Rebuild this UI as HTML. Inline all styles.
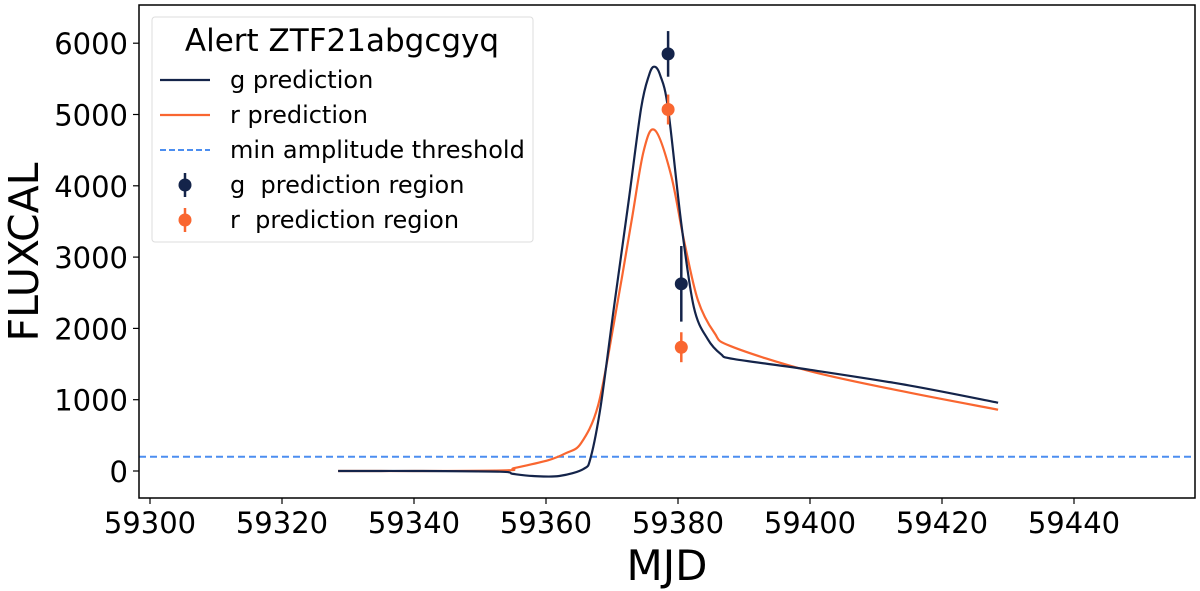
<!DOCTYPE html>
<html><head><meta charset="utf-8"><style>
body{margin:0;background:#fff}
svg{display:block;font-family:"DejaVu Sans","Liberation Sans",sans-serif}
</style></head><body>
<svg id="chart" width="1200" height="591" viewBox="0 0 1200 591" xmlns="http://www.w3.org/2000/svg">
<g id="plot"></g>
</svg>
<script>
const gMjd = [59328.5,59340,59353,59355,59358,59362,59365.7,59366.8,59368.3,59370.3,59372.4,59374.4,59375.6,59376.4,59377.3,59378.5,59380.5,59382.4,59384.5,59386.5,59388.5,59400,59415,59428.5];
const gFlux = [0,0,-10,-40,-70,-70,30,200,920,2300,3700,5080,5550,5670,5550,5080,3470,2300,1850,1640,1570,1420,1200,958];
const rMjd = [59328.5,59340,59354,59355.2,59360.3,59363,59365.3,59367.9,59370.3,59372.9,59374.8,59376.5,59378.9,59380.9,59383,59385.5,59388,59400,59415,59428.5];
const rFlux = [0,0,10,40,150,250,390,920,2080,3470,4490,4780,4170,3240,2400,1940,1750,1400,1100,860];
const ptMjd = [59378.5,59378.5,59380.5,59380.5];
const ptFlux = [5850,5070,2625,1736];
const ptErr = [320,210,530,210];
const ptBand = ['g','r','g','r'];
const threshold = 200;
const xTicks = [59300,59320,59340,59360,59380,59400,59420,59440];
const yTicks = [0,1000,2000,3000,4000,5000,6000];

const L=139,R=1195,T=5,B=498;
const X=v=>150+(v-59300)*6.6;
const Y=v=>471-v*0.0713;
const G='#14244a',O='#f96630',BL='#4c8ef0';
const svg=document.getElementById('chart');
const NS='http://www.w3.org/2000/svg';
function mk(tag,attrs,parent){const e=document.createElementNS(NS,tag);for(const k in attrs)e.setAttribute(k,attrs[k]);(parent||svg).appendChild(e);return e;}

let th=mk('line',{x1:L,x2:R,y1:Y(threshold),y2:Y(threshold),stroke:BL,'stroke-width':2,'stroke-dasharray':'7,4'});



function path(xs,ys,col,name){
  const P=xs.map((x,i)=>[X(x),Y(ys[i])]);
  let d='M'+P[0][0].toFixed(1)+','+P[0][1].toFixed(1);
  for(let i=0;i<P.length-1;i++){
    const p0=P[Math.max(i-1,0)],p1=P[i],p2=P[i+1],p3=P[Math.min(i+2,P.length-1)];
    const c1=[p1[0]+(p2[0]-p0[0])/6,p1[1]+(p2[1]-p0[1])/6];
    const c2=[p2[0]-(p3[0]-p1[0])/6,p2[1]-(p3[1]-p1[1])/6];
    d+=' C'+c1.map(v=>v.toFixed(1)).join(',')+' '+c2.map(v=>v.toFixed(1)).join(',')+' '+p2.map(v=>v.toFixed(1)).join(',');
  }
  const p=mk('path',{d:d,fill:'none',stroke:col,'stroke-width':2.2,'stroke-linejoin':'round'});
  
  
}
path(rMjd,rFlux,O,'r-prediction-line');
path(gMjd,gFlux,G,'g-prediction-line');

ptMjd.forEach((m,i)=>{
  const c=ptBand[i]==='g'?G:O;
  const grp=mk('g',{});
  
  
  mk('line',{x1:X(m),x2:X(m),y1:Y(ptFlux[i]-ptErr[i]),y2:Y(ptFlux[i]+ptErr[i]),stroke:c,'stroke-width':2.5},grp);
  mk('circle',{cx:X(m),cy:Y(ptFlux[i]),r:6.5,fill:c},grp);
});

let fr=mk('rect',{x:L,y:T,width:R-L,height:B-T,fill:'none',stroke:'#000','stroke-width':1.5});



xTicks.forEach(t=>{
  mk('line',{x1:X(t),x2:X(t),y1:B,y2:B+6,stroke:'#000','stroke-width':1.2});
  const tx=mk('text',{x:X(t),y:B+35,'font-size':29,'text-anchor':'middle',fill:'#000'});
  tx.textContent=t;
  
  
});
yTicks.forEach(t=>{
  mk('line',{x1:L-6,x2:L,y1:Y(t),y2:Y(t),stroke:'#000','stroke-width':1.2});
  const tx=mk('text',{x:L-11,y:Y(t)+11,'font-size':29,'text-anchor':'end',fill:'#000'});
  tx.textContent=t;
  
  
});
let xl=mk('text',{x:667,y:580,'font-size':42,'text-anchor':'middle'});xl.textContent='MJD';


let yl=mk('text',{x:0,y:0,'font-size':41,'text-anchor':'middle',transform:'translate(38,252) rotate(-90)'});yl.textContent='FLUXCAL';



const lg=mk('g',{});


mk('rect',{x:152,y:17,width:381,height:225,rx:3,fill:'#fff','fill-opacity':0.85,stroke:'#ddd','stroke-width':1},lg);
let tt=mk('text',{x:342,y:51,'font-size':31,'text-anchor':'middle'},lg);tt.textContent='Alert ZTF21abgcgyq';


const items=[['line',G,'g prediction'],['line',O,'r prediction'],['dash',BL,'min amplitude threshold'],['pt',G,'g  prediction region'],['pt',O,'r  prediction region']];
const ys=[80,115,150,185,220];
items.forEach((it,i)=>{
  const y=ys[i];
  const e=mk('g',{},lg);
  
  
  if(it[0]==='line')mk('line',{x1:160,x2:210,y1:y,y2:y,stroke:it[1],'stroke-width':2.2},e);
  else if(it[0]==='dash')mk('line',{x1:160,x2:210,y1:y,y2:y,stroke:it[1],'stroke-width':2,'stroke-dasharray':'6,3'},e);
  else{mk('line',{x1:185,x2:185,y1:y-12,y2:y+12,stroke:it[1],'stroke-width':2.5},e);mk('circle',{cx:185,cy:y,r:6.5,fill:it[1]},e);}
  const t=mk('text',{x:230,y:y+8,'font-size':24,'xml:space':'preserve',style:'white-space:pre'},e);t.textContent=it[2];
});
</script>
</body></html>
